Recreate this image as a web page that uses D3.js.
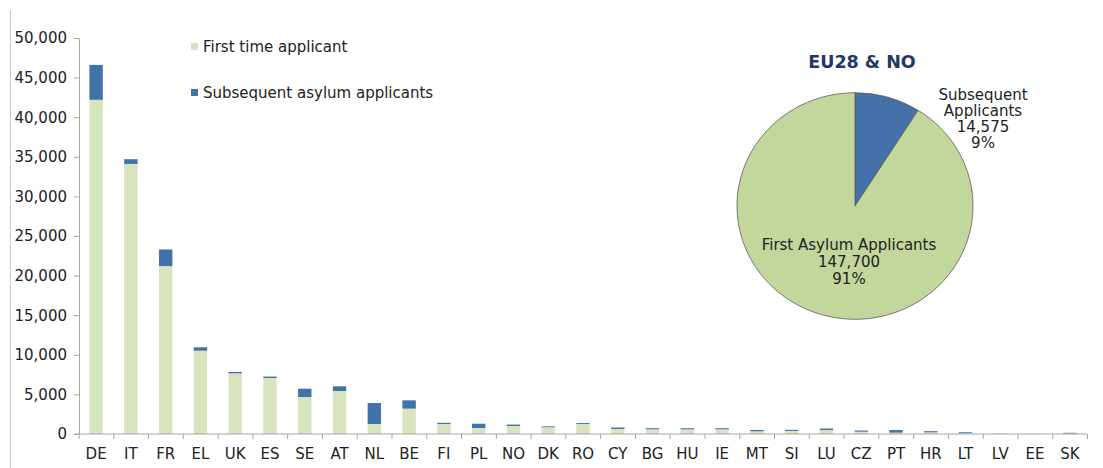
<!DOCTYPE html>
<html lang="en">
<head>
<meta charset="utf-8">
<title>Asylum applicants</title>
<script src="https://cdn.jsdelivr.net/npm/d3@7"></script>
<style>
  body { margin: 0; background: #fff; }
  text { font-family: "DejaVu Sans", Verdana, sans-serif; fill: #222; }
</style>
</head>
<body>
<svg id="chart" width="1103" height="468"></svg>
<script>
// categories and values
var countries = ["DE","IT","FR","EL","UK","ES","SE","AT","NL","BE","FI","PL","NO","DK","RO",
                 "CY","BG","HU","IE","MT","SI","LU","CZ","PT","HR","LT","LV","EE","SK"];
var firstTime = [42200,34100,21200,10520,7660,7070,4670,5430,1260,3200,1260,760,1010,850,1260,
                 640,590,590,590,340,390,500,290,170,210,100,80,15,50];
var subsequent = [4400,600,2100,430,180,180,1050,590,2650,1050,150,540,180,110,120,
                  180,140,140,140,170,140,190,150,330,150,120,20,5,100];
var yTicks = [0,5000,10000,15000,20000,25000,30000,35000,40000,45000,50000];

var pieNames = ["Subsequent Applicants", "First Asylum Applicants"];
var pieValues = [14575, 147700];
var piePct = ["9%", "91%"];

var GREEN = "#d7e4bd", BLUE = "#4272ab";
var PIE_GREEN = "#c3d69b", PIE_BLUE = "#4471a7";

var svg = d3.select("#chart");

// light frame line on the left
svg.append("line").attr("x1", 10.5).attr("x2", 10.5).attr("y1", 10).attr("y2", 468)
  .attr("stroke", "#c8c8c8");

var x = d3.scaleBand().domain(countries).range([79, 1087]).paddingInner(0.615).paddingOuter(0.3);
var y = d3.scaleLinear().domain([0, 50000]).range([434, 38]);

// stacked bars
var stack = countries.map(function (c, i) {
  return { c: c, a: firstTime[i], b: subsequent[i] };
});
var bars = svg.append("g");
bars.selectAll(".first").data(stack).enter().append("rect")
  .attr("x", function (d) { return x(d.c); })
  .attr("width", x.bandwidth())
  .attr("y", function (d) { return y(d.a); })
  .attr("height", function (d) { return y(0) - y(d.a); })
  .attr("fill", GREEN);
bars.selectAll(".sub").data(stack).enter().append("rect")
  .attr("x", function (d) { return x(d.c); })
  .attr("width", x.bandwidth())
  .attr("y", function (d) { return y(d.a + d.b); })
  .attr("height", function (d) { return y(d.a) - y(d.a + d.b); })
  .attr("fill", BLUE);

// y axis
var yAxis = svg.append("g").attr("transform", "translate(79,0)")
  .call(d3.axisLeft(y).tickValues(yTicks).tickSize(5).tickPadding(7)
    .tickFormat(d3.format(",")));
yAxis.select(".domain").attr("stroke", "#a6a6a6");
yAxis.selectAll(".tick line").attr("stroke", "#a6a6a6");
yAxis.selectAll("text").style("font-size", "15px");

// x axis: ticks sit on the band edges
var xAxis = svg.append("g").attr("transform", "translate(0,434)");
xAxis.append("line").attr("x1", 74).attr("x2", 1087).attr("stroke", "#a6a6a6");
var step = x.step();
var edges = d3.range(countries.length + 1).map(function (i) { return 79 + i * step; });
xAxis.selectAll(".xt").data(edges).enter().append("line")
  .attr("x1", function (d) { return d; }).attr("x2", function (d) { return d; })
  .attr("y1", 0).attr("y2", 5).attr("stroke", "#a6a6a6");
xAxis.selectAll(".xl").data(countries).enter().append("text")
  .attr("x", function (d) { return x(d) + x.bandwidth() / 2; })
  .attr("y", 25).attr("text-anchor", "middle").style("font-size", "15px")
  .text(function (d) { return d; });

// legend
var legend = [["First time applicant", GREEN], ["Subsequent asylum applicants", BLUE]];
legend.forEach(function (l, i) {
  var ly = 47 + i * 46;
  svg.append("rect").attr("x", 191).attr("y", ly - 4).attr("width", 7).attr("height", 7)
    .attr("fill", l[1]);
  svg.append("text").attr("x", 203).attr("y", ly + 5).style("font-size", "15px").text(l[0]);
});

// pie
var cx = 855, cy = 206, r = 118;
var pieG = svg.append("g").attr("transform", "translate(" + cx + "," + cy + ") scale(1,0.96)");
var arcs = d3.pie().sort(null)(pieValues);
var arc = d3.arc().innerRadius(0).outerRadius(r);
pieG.selectAll("path").data(arcs).enter().append("path")
  .attr("d", arc)
  .attr("fill", function (d, i) { return i === 0 ? PIE_BLUE : PIE_GREEN; })
  .attr("stroke", "#5a5a5a").attr("stroke-width", 0.8);

svg.append("text").attr("x", 862).attr("y", 68).attr("text-anchor", "middle")
  .style("font-size", "17.5px").style("font-weight", "bold").style("fill", "#1f3864")
  .text("EU28 & NO");

var subLines = ["Subsequent", "Applicants", d3.format(",")(pieValues[0]), piePct[0]];
subLines.forEach(function (t, i) {
  svg.append("text").attr("x", 983).attr("y", 100 + i * 16).attr("text-anchor", "middle")
    .style("font-size", "15px").text(t);
});
var firstLines = [pieNames[1], d3.format(",")(pieValues[1]), piePct[1]];
firstLines.forEach(function (t, i) {
  svg.append("text").attr("x", 849).attr("y", 250 + i * 17).attr("text-anchor", "middle")
    .style("font-size", "15px").text(t);
});
</script>
</body>
</html>
